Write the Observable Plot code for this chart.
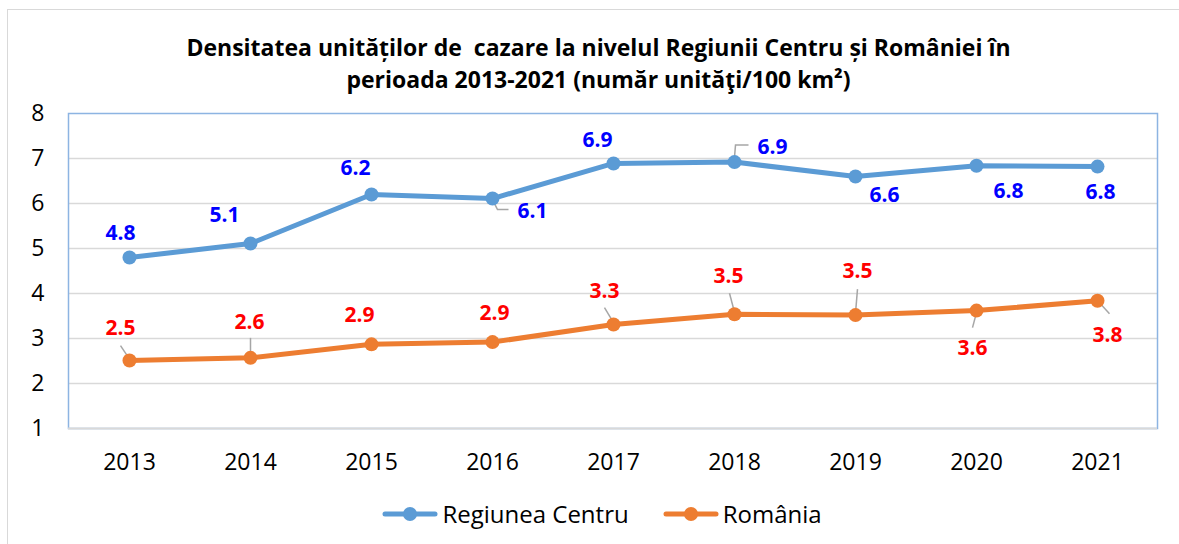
<!DOCTYPE html>
<html><head><meta charset="utf-8">
<script src="https://cdn.jsdelivr.net/npm/d3@7"></script>
<script src="https://cdn.jsdelivr.net/npm/@observablehq/plot@0.6"></script>
<style>
body{margin:0;background:#fff;font-family:"Open Sans", sans-serif}
#wrap{position:relative;width:1179px;height:544px;overflow:hidden;background:#fff}
#border{position:absolute;left:7px;top:9px;width:1200px;height:600px;border:1.5px solid #d9d9d9;box-sizing:border-box}
#title{position:absolute;left:0;top:31px;width:1197px;text-align:center;font-weight:bold;font-size:23px;line-height:32px;color:#000}
#chart{position:absolute;left:0;top:100px}
#legend{position:absolute;left:0;top:497px;width:1179px;display:flex;justify-content:center;align-items:center;font-size:24px;color:#000;padding-left:25px;box-sizing:border-box}
.item{display:flex;align-items:center;margin:0 17px}
.item svg{margin-right:4px}
</style></head>
<body>
<div id="wrap">
<div id="border"></div>
<div id="title">Densitatea unităților de &nbsp;cazare la nivelul Regiunii Centru și României în<br>perioada 2013-2021 (număr unităţi/100 km²)</div>
<div id="chart"></div>
<div id="legend"></div>
</div>
<script>
// ---- data ----
const years = ["2013","2014","2015","2016","2017","2018","2019","2020","2021"];
const centru = [4.8, 5.11, 6.2, 6.11, 6.89, 6.92, 6.6, 6.84, 6.82];
const romania = [2.51, 2.57, 2.87, 2.92, 3.31, 3.54, 3.52, 3.62, 3.84];
const seriesNames = ["Regiunea Centru", "România"];
const yTicks = [1, 2, 3, 4, 5, 6, 7, 8];

// ---- layout (pixel offsets of data labels & leader lines) ----
const centruLabelOffsets = [[-9,-24],[-26,-28],[-16,-26],[40,13],[-16,-23],[38,-15],[29,19],[32,26],[3,26]];
const romaniaLabelOffsets = [[-9,-32],[-1,-36],[-12,-29],[2,-29],[-9,-33],[-6,-38],[2,-44],[-4,38],[10,35]];
const centruLeaders = {3: [[2,5],[5,11],[16,11]], 5: [[0,-5],[1,-17],[14,-17]]};
const romaniaLeaders = {0: [[-1,-3],[-9,-15]], 1: [[0,-2],[0,-20]], 4: [[0,-2],[-9,-17]], 5: [[0,-2],[-5,-21]], 6: [[0,-2],[2,-26]], 7: [[0,2],[-4,17]], 8: [[2,2],[12,13]]};

const colors = ["#5b9bd5", "#ed7d31"];
const labelColors = ["#0000ff", "#ff0000"];
const font = "'Open Sans', sans-serif";

const rows = [];
years.forEach((yr, i) => {
  rows.push({year: yr, value: centru[i], series: seriesNames[0], idx: i});
  rows.push({year: yr, value: romania[i], series: seriesNames[1], idx: i});
});

const leaderMarks = [];
function addLeaders(leaders, vals) {
  for (const [k, pts] of Object.entries(leaders)) {
    const i = +k;
    leaderMarks.push(Plot.dot([{year: years[i], value: vals[i]}], {
      x: "year", y: "value", r: 1, fill: "none", stroke: "#a6a6a6", strokeWidth: 1.5,
      symbol: {draw(ctx) { ctx.moveTo(pts[0][0], pts[0][1]); for (let j = 1; j < pts.length; j++) ctx.lineTo(pts[j][0], pts[j][1]); }}
    }));
  }
}
addLeaders(centruLeaders, centru);
addLeaders(romaniaLeaders, romania);

const labelMarks = [];
[[centru, centruLabelOffsets, 0], [romania, romaniaLabelOffsets, 1]].forEach(([vals, offs, s]) => {
  vals.forEach((v, i) => {
    labelMarks.push(Plot.text([{year: years[i], value: v}], {
      x: "year", y: "value", text: d => d.value.toFixed(1),
      dx: offs[i][0], dy: offs[i][1], fill: labelColors[s], fontWeight: "bold", fontSize: 21, fontFamily: font
    }));
  });
});

const chart = Plot.plot({
  width: 1179, height: 380,
  marginTop: 13, marginBottom: 52, marginLeft: 68, marginRight: 22,
  style: {fontFamily: font, fontSize: "20px", color: "#000", background: "transparent", overflow: "visible"},
  x: {type: "point", domain: years, padding: 0.5},
  y: {domain: [1, 8]},
  color: {domain: seriesNames, range: colors},
  marks: [
    Plot.ruleY(yTicks.slice(1, -1), {stroke: "#d9d9d9", strokeWidth: 1.5}),
    Plot.frame({stroke: "#8db4e2", strokeWidth: 1.5}),
    Plot.ruleY([1], {stroke: "#d9d9d9", strokeWidth: 2}),
    Plot.axisX({label: null, tickSize: 0, tickPadding: 25, fontSize: 23, fontFamily: font, fill: "#000"}),
    Plot.axisY(yTicks, {label: null, tickSize: 0, tickPadding: 24, fontSize: 23, fontFamily: font, fill: "#000", tickFormat: d => String(d)}),
    ...leaderMarks,
    Plot.line(rows, {x: "year", y: "value", z: "series", stroke: "series", strokeWidth: 5}),
    Plot.dot(rows, {x: "year", y: "value", fill: "series", r: 7}),
    ...labelMarks
  ]
});
document.getElementById("chart").appendChild(chart);

const legend = document.getElementById("legend");
seriesNames.forEach((name, i) => {
  const item = document.createElement("div");
  item.className = "item";
  item.innerHTML = `<svg width="56" height="18"><line x1="3" y1="9" x2="53" y2="9" stroke="${colors[i]}" stroke-width="5" stroke-linecap="round"/><circle cx="28" cy="9" r="7" fill="${colors[i]}"/></svg><span>${name}</span>`;
  legend.appendChild(item);
});
</script>
</body></html>
